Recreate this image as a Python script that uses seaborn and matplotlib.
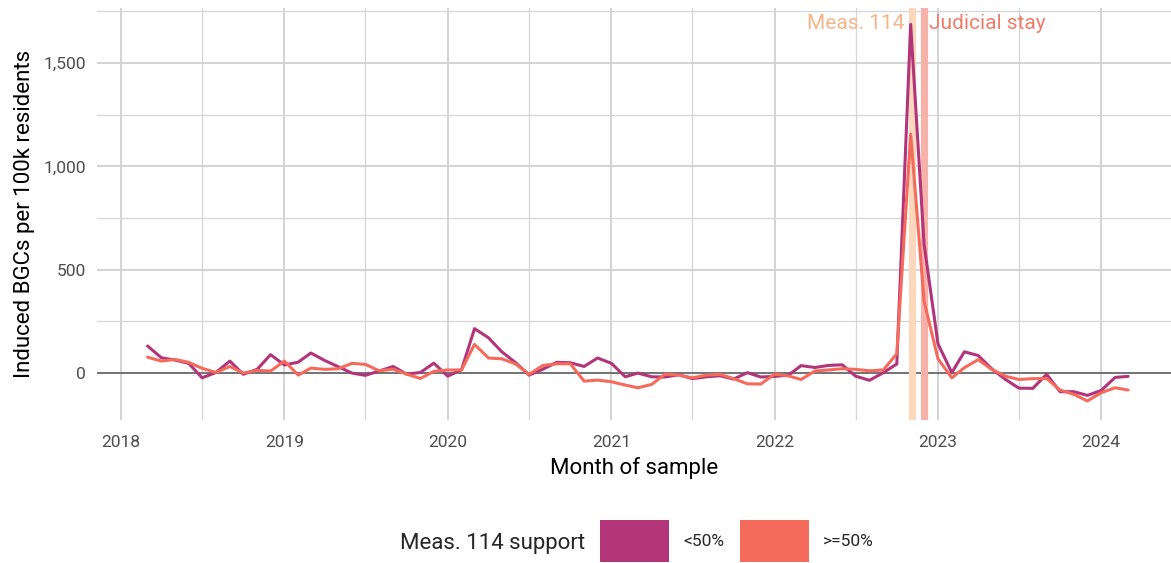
import seaborn as sns
import matplotlib.pyplot as plt
import matplotlib.dates as mdates
from matplotlib.patches import Patch
from matplotlib.ticker import FuncFormatter, MultipleLocator
import pandas as pd

# monthly samples, Mar 2018 - Mar 2024
months = pd.date_range('2018-03-01', '2024-03-01', freq='MS')

low_support = [
    131, 74, 63, 47, -23, 3, 58, -6, 18, 89,
    39, 53, 97, 61, 31, 0, -11, 10, 32, -5, 3, 48,
    -15, 17, 215, 171, 103, 50, -10, 19, 52, 50, 32, 73,
    47, -18, 0, -18, -19, -8, -27, -18, -13, -29, 2, -19,
    -16, -10, 36, 27, 37, 40, -15, -35, 2, 44, 1687, 623,
    142, 2, 103, 85, 21, -31, -73, -74, -6, -90, -90, -108,
    -84, -21, -16,
]
high_support = [
    77, 58, 66, 52, 23, 3, 32, 0, 13, 10,
    58, -10, 24, 18, 21, 47, 42, 11, 19, -5, -26, 8,
    15, 15, 139, 73, 69, 44, -6, 37, 45, 45, -39, -34,
    -42, -58, -71, -55, -5, -10, -23, -10, -6, -27, -52, -53,
    -5, -14, -31, 10, 15, 21, 18, 11, 15, 94, 1155, 348,
    69, -23, 26, 65, 18, -15, -31, -27, -26, -82, -103, -135,
    -95, -71, -82,
]
groups = ['<50%', '>=50%']
colors = ['#B2357A', '#F46B5C']

events = ['Meas. 114', 'Judicial stay']
event_dates = pd.to_datetime(['2022-11-04', '2022-12-01'])
event_band_colors = ['#FBD8BC', '#F6B1A9']
event_text_colors = ['#F5B587', '#EF7D6B']

df = pd.DataFrame({
    'month': list(months) * 2,
    'value': low_support + high_support,
    'support': [groups[0]] * len(months) + [groups[1]] * len(months),
})

sns.set_style('white')
plt.rcParams['font.family'] = ['Roboto', 'DejaVu Sans']

fig = plt.figure(figsize=(11.71, 5.63), dpi=100)
ax = fig.add_axes([97 / 1171, 143 / 563, 1 - 97 / 1171, 412 / 563])

# grid (ggplot minimal look)
ax.xaxis.set_major_locator(mdates.YearLocator())
ax.xaxis.set_minor_locator(mdates.MonthLocator(bymonth=7))
ax.xaxis.set_major_formatter(mdates.DateFormatter('%Y'))
ax.yaxis.set_major_locator(MultipleLocator(500))
ax.yaxis.set_minor_locator(MultipleLocator(250))
ax.yaxis.set_major_formatter(FuncFormatter(lambda v, p: f'{int(v):,}'))
ax.grid(which='major', color='#D0D0D0', lw=1.3)
ax.grid(which='minor', color='#D6D6D6', lw=0.9)
ax.set_axisbelow(True)
for s in ax.spines.values():
    s.set_visible(False)
ax.tick_params(which='both', length=0)
ax.tick_params(axis='both', labelsize=12.5, labelcolor='#4D4D4D')
ax.tick_params(axis='x', pad=11)
ax.tick_params(axis='y', pad=8)

ax.axhline(0, color='#5A5A5A', lw=1.1, zorder=1)

for d, bc in zip(event_dates, event_band_colors):
    ax.axvline(d, color=bc, lw=5.2, zorder=1.5)

sns.lineplot(data=df, x='month', y='value', hue='support', palette=colors,
             hue_order=groups, lw=2.2, ax=ax, legend=False, zorder=3)

ax.set_xlim(pd.Timestamp('2017-11-08'), pd.Timestamp('2024-06-05'))
ax.set_ylim(-227, 1766)

ymax = 1690
ax.text(event_dates[0] - pd.Timedelta(days=16), ymax, events[0], ha='right', va='center',
        color=event_text_colors[0], fontsize=15)
ax.text(event_dates[1] + pd.Timedelta(days=12), ymax, events[1], ha='left', va='center',
        color=event_text_colors[1], fontsize=15)

ax.set_xlabel('Month of sample', fontsize=16, color='black', labelpad=5)
ax.set_ylabel('Induced BGCs per 100k residents', fontsize=16, color='black', labelpad=6)

fig.text(585 / 1171, 1 - 543 / 563, 'Meas. 114 support', ha='right', va='center', fontsize=16)
handles = [Patch(facecolor=c, edgecolor='none') for c in colors]
fig.legend(handles, groups, loc='center left', bbox_to_anchor=(584 / 1171, 1 - 541 / 563),
           ncol=2, frameon=False, fontsize=12.5, handlelength=4.0, handleheight=3.3,
           handletextpad=0.8, columnspacing=0.9)

fig.savefig('out.png', dpi=100)
